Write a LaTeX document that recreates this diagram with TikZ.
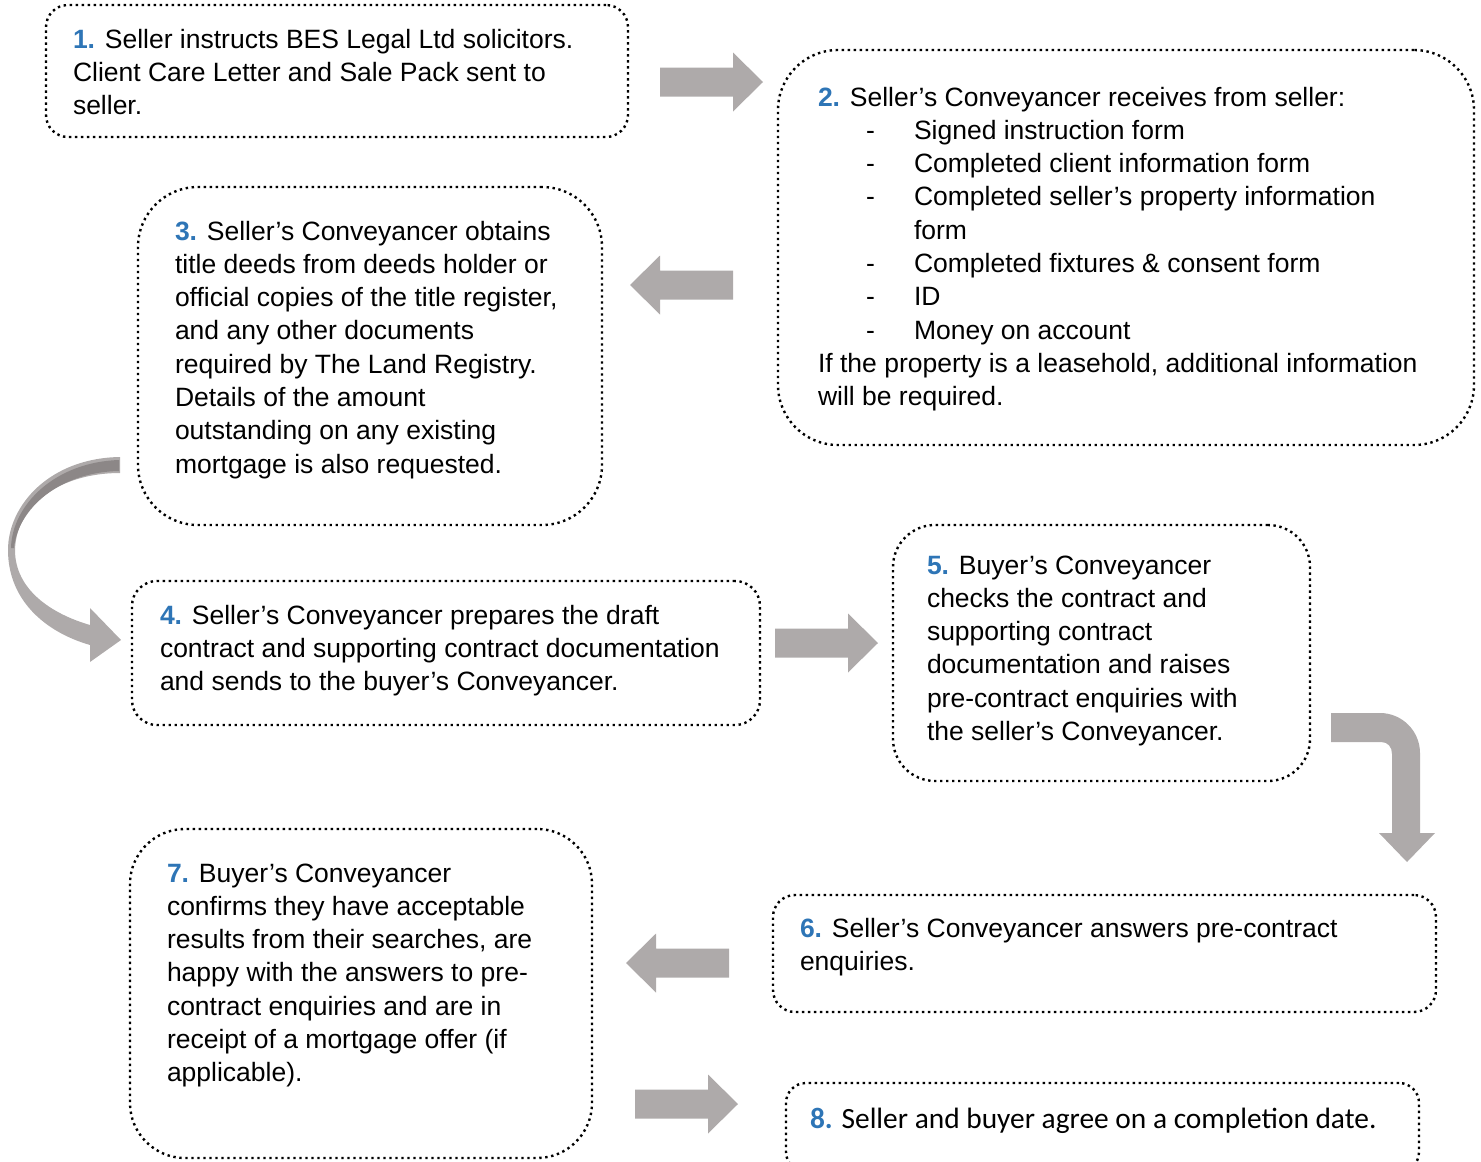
\documentclass[tikz,border=0pt]{standalone}
\usepackage{fontspec}
\setmainfont{Liberation Sans}
\newfontfamily\carlitofont{Carlito}
\definecolor{numblue}{HTML}{2E75B6}
\definecolor{arrowgray}{HTML}{AEAAAA}
\definecolor{arrowdark}{HTML}{8C8787}
\newcommand\stepno[1]{\textcolor{numblue}{\textbf{#1}}}
\newcommand\dashitem[1]{\hspace*{48pt}\makebox[48pt][l]{-}#1}
\begin{document}
\begin{tikzpicture}[x=1pt,y=-1pt,
  box/.style={draw=black, line width=2.4pt, dash pattern=on 2.4pt off 3.6pt,
    rounded corners=#1, anchor=north west, outer sep=0pt, inner sep=0pt},
  box/.default=20pt,
  txt/.style={anchor=base west, inner sep=0pt, outer sep=0pt, align=left,
    font=\fontsize{26.5}{33.3}\selectfont},
  blockarrow/.pic={\fill[arrowgray] (0,-14.5) -- (73,-14.5) -- (73,-29.5) -- (103,0)
    -- (73,29.5) -- (73,14.5) -- (0,14.5) -- cycle;}
]
\useasboundingbox (0,0) rectangle (1481,1162);

% boxes
\node[box=22pt, minimum width=582pt, minimum height=132pt] (b1) at (46,5) {};
\node[box=60pt, minimum width=696pt, minimum height=395pt] (b2) at (778,50) {};
\node[box=60pt, minimum width=464pt, minimum height=338pt] (b3) at (138,187) {};
\node[box=25pt, minimum width=628pt, minimum height=144pt] (b4) at (132,581) {};
\node[box=42pt, minimum width=417pt, minimum height=256pt] (b5) at (893,525) {};
\node[box=22pt, minimum width=663pt, minimum height=117pt] (b6) at (773,895) {};
\node[box=55pt, minimum width=462pt, minimum height=329pt] (b7) at (130,829) {};
\node[box=20pt, minimum width=633pt, minimum height=89pt] (b8) at (786,1083) {};

% texts (anchored at the baseline of their last line)
\node[txt] (t1) at (73,114.6) {\stepno{1.} Seller instructs BES Legal Ltd solicitors.\\
Client Care Letter and Sale Pack sent to\\
seller.};
\node[txt] (t2) at (818,405.7) {\stepno{2.} Seller’s Conveyancer receives from seller:\\
\dashitem{Signed instruction form}\\
\dashitem{Completed client information form}\\
\dashitem{Completed seller’s property information}\\
\hspace*{96pt}form\\
\dashitem{Completed fixtures \& consent form}\\
\dashitem{ID}\\
\dashitem{Money on account}\\
If the property is a leasehold, additional information\\
will be required.};
\node[txt] (t3) at (175,473.1) {\stepno{3.} Seller’s Conveyancer obtains\\
title deeds from deeds holder or\\
official copies of the title register,\\
and any other documents\\
required by The Land Registry.\\
Details of the amount\\
outstanding on any existing\\
mortgage is also requested.};
\node[txt] (t4) at (160,690.6) {\stepno{4.} Seller’s Conveyancer prepares the draft\\
contract and supporting contract documentation\\
and sends to the buyer’s Conveyancer.};
\node[txt] (t5) at (927,740.5) {\stepno{5.} Buyer’s Conveyancer\\
checks the contract and\\
supporting contract\\
documentation and raises\\
pre-contract enquiries with\\
the seller’s Conveyancer.};
\node[txt] (t6) at (800,970.3) {\stepno{6.} Seller’s Conveyancer answers pre-contract\\
enquiries.};
\node[txt] (t7) at (167,1081.8) {\stepno{7.} Buyer’s Conveyancer\\
confirms they have acceptable\\
results from their searches, are\\
happy with the answers to pre-\\
contract enquiries and are in\\
receipt of a mortgage offer (if\\
applicable).};
\node[txt, font=\carlitofont\fontsize{29.4}{36}\selectfont] (t8) at (810,1128)
  {\stepno{8.} Seller and buyer agree on a completion date.};

% straight block arrows
\pic (a1) at (660,82) {blockarrow};
\pic[xscale=-1] (a2) at (733,285) {blockarrow};
\pic (a3) at (775,643) {blockarrow};
\pic[xscale=-1] (a5) at (729,963) {blockarrow};
\pic (a6) at (635,1104) {blockarrow};

% bent arrow 5 -> 6
\fill[arrowgray] (1331,713) -- (1380,713) .. controls (1402,713) and (1420,731) .. (1420,753)
  -- (1420,833) -- (1435,833) -- (1407,862) -- (1379,833) -- (1392,833) -- (1392,754)
  .. controls (1392,747) and (1388,742) .. (1381,742) -- (1331,742) -- cycle;

% curved arrow 3 -> 4
\fill[arrowgray] (120,457) .. controls (50,458) and (8,505) .. (8,550)
  .. controls (8,600) and (45,632) .. (90,645) -- (90,662) -- (121,640) -- (90,608)
  -- (90,625) .. controls (52,614) and (15,590) .. (15,550)
  .. controls (16,505) and (60,473) .. (120,473) -- cycle;
\fill[arrowdark] (119,460) .. controls (55,462) and (12,505) .. (11,548)
  -- (14,548) .. controls (18,508) and (60,472) .. (119,471) -- cycle;
\end{tikzpicture}
\end{document}
